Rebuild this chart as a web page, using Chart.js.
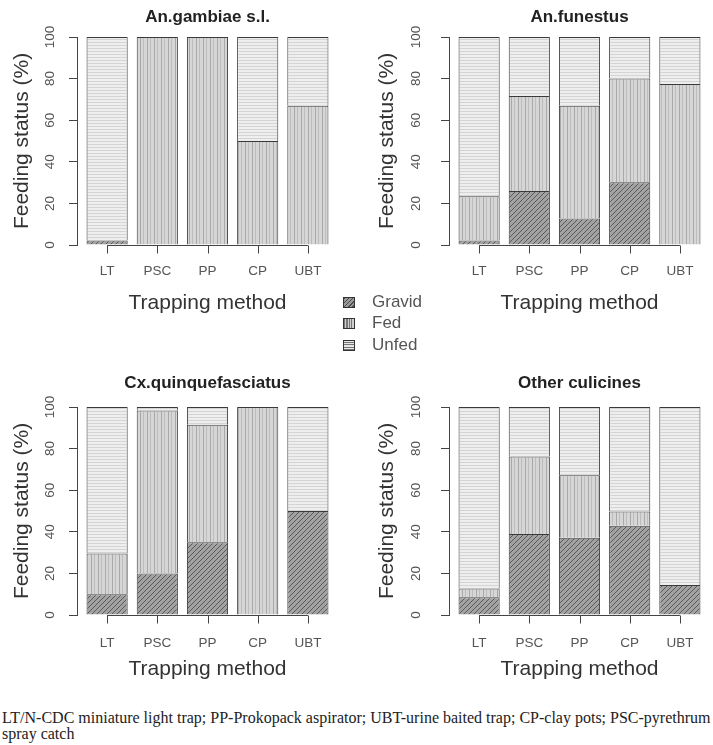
<!DOCTYPE html>
<html>
<head>
<meta charset="utf-8">
<script src="https://cdn.jsdelivr.net/npm/chart.js@4"></script>
<style>
  body { margin: 0; background: #fff; }
  #page { position: relative; width: 713px; height: 745px; overflow: hidden; font-family: 'Liberation Sans', Arial, sans-serif; }
  canvas { position: absolute; }
  .legend { position: absolute; left: 343px; font-size: 17px; color: #555; }
  .legend div { position: absolute; left: 0; height: 20px; line-height: 20px; white-space: nowrap; }
  .legend span.sw { position: absolute; left: 0; top: 5px; width: 10px; height: 9px; border: 1px solid #333; }
  .legend span.tx { position: absolute; left: 29px; top: 0; }
  #caption { position: absolute; left: 2px; top: 710px; font-family: 'Liberation Serif', 'Times New Roman', serif; font-size: 16px; line-height: 16px; color: #222; white-space: nowrap; }
</style>
</head>
<body>
<div id="page">
  <canvas id="p1" width="356" height="320" style="left:0px;top:0px"></canvas>
  <canvas id="p2" width="356" height="320" style="left:357px;top:0px"></canvas>
  <canvas id="p3" width="356" height="320" style="left:0px;top:366px"></canvas>
  <canvas id="p4" width="356" height="320" style="left:357px;top:366px"></canvas>
  <div class="legend">
    <div style="top:292px"><span class="sw" style="background:#9a9a9a repeating-linear-gradient(135deg,#4e4e4e 0 1px,transparent 1px 3px)"></span><span class="tx">Gravid</span></div>
    <div style="top:313px"><span class="sw" style="background:repeating-linear-gradient(90deg,#777 0 1px,#d0d0d0 1px 2.5px)"></span><span class="tx">Fed</span></div>
    <div style="top:335px"><span class="sw" style="background:repeating-linear-gradient(0deg,#777 0 1px,#e6e6e6 1px 2.5px)"></span><span class="tx">Unfed</span></div>
  </div>
  <div id="caption">LT/N-CDC miniature light trap; PP-Prokopack aspirator; UBT-urine baited trap; CP-clay pots; PSC-pyrethrum<br>spray catch</div>
</div>
<script>
// Trapping methods (x categories)
const methods = ["LT", "PSC", "PP", "CP", "UBT"];
const statusNames = ["Gravid", "Fed", "Unfed"];
// Feeding status (%) per species, one value per trapping method
const gambiaeGravid = [2.2, 0, 0, 0, 0];
const gambiaeFed = [0, 100, 100, 50, 67];
const gambiaeUnfed = [97.8, 0, 0, 50, 33];

const funestusGravid = [2.2, 26, 12.8, 30.2, 0];
const funestusFed = [21.2, 45.6, 54.2, 49.9, 77.4];
const funestusUnfed = [76.6, 28.4, 33, 19.9, 22.6];

const culexGravid = [10, 20, 35, 0, 50];
const culexFed = [19.6, 78.3, 56.5, 100, 0];
const culexUnfed = [70.4, 1.7, 8.5, 0, 50];

const otherGravid = [8.5, 38.9, 37.1, 42.9, 14.4];
const otherFed = [4.3, 37.3, 30.1, 6.9, 0];
const otherUnfed = [87.2, 23.8, 32.8, 50.2, 85.6];

const yTicks = [0, 20, 40, 60, 80, 100];

const sans = "'Liberation Sans', Arial, sans-serif";

// Hatch fills like R's density/angle shading
function makePattern(ctx, kind) {
  const c = document.createElement("canvas");
  const g = c.getContext("2d");
  if (kind === "Gravid") {
    c.width = 5; c.height = 5;
    g.fillStyle = "#a2a2a2";
    g.fillRect(0, 0, 5, 5);
    g.strokeStyle = "#5a5a5a";
    g.lineWidth = 1;
    g.beginPath();
    g.moveTo(0, 5); g.lineTo(5, 0);
    g.moveTo(-1, 1); g.lineTo(1, -1);
    g.moveTo(4, 6); g.lineTo(6, 4);
    g.stroke();
  } else if (kind === "Fed") {
    c.width = 7; c.height = 1;
    g.fillStyle = "#d6d6d6";
    g.fillRect(0, 0, 7, 1);
    g.fillStyle = "#a9a9a9";
    g.fillRect(0, 0, 1, 1);
    g.fillStyle = "#bdbdbd";
    g.fillRect(3, 0, 1, 1);
  } else {
    c.width = 1; c.height = 3;
    g.fillStyle = "#eeeeee";
    g.fillRect(0, 0, 1, 3);
    g.fillStyle = "#d4d4d4";
    g.fillRect(0, 0, 1, 1);
  }
  return ctx.createPattern(c, "repeat");
}

// x axis like R's axis(): line from first to last tick, ticks pointing down
const baseline = {
  id: "baseline",
  afterDatasetsDraw(chart) {
    const { ctx, scales: { x, y } } = chart;
    const y0 = Math.round(y.getPixelForValue(0)) + 0.5;
    ctx.save();
    ctx.strokeStyle = "#444";
    ctx.lineWidth = 1;
    ctx.beginPath();
    ctx.moveTo(x.getPixelForValue(0), y0);
    ctx.lineTo(x.getPixelForValue(methods.length - 1), y0);
    x.ticks.forEach((t) => {
      const px = Math.round(x.getPixelForValue(t.value)) + 0.5;
      ctx.moveTo(px, y0);
      ctx.lineTo(px, y0 + 8);
    });
    ctx.stroke();
    ctx.restore();
  },
};

const panels = [
  { id: "p1", title: "An.gambiae s.l.", values: [gambiaeGravid, gambiaeFed, gambiaeUnfed],
    axisW: 77, padR: 18, yTitlePad: 9.4, yTickPad: 7.75, titleTop: 7, titleBottom: 9.6, xH: 75, xTickPad: 10 },
  { id: "p2", title: "An.funestus", values: [funestusGravid, funestusFed, funestusUnfed],
    axisW: 92, padR: 3, yTitlePad: 17.4, yTickPad: 13.75, titleTop: 7, titleBottom: 9.6, xH: 75, xTickPad: 10 },
  { id: "p3", title: "Cx.quinquefasciatus", values: [culexGravid, culexFed, culexUnfed],
    axisW: 77, padR: 18, yTitlePad: 9.4, yTickPad: 7.75, titleTop: 6.8, titleBottom: 13.8, xH: 71, xTickPad: 12 },
  { id: "p4", title: "Other culicines", values: [otherGravid, otherFed, otherUnfed],
    axisW: 92, padR: 3, yTitlePad: 17.4, yTickPad: 13.75, titleTop: 6.8, titleBottom: 13.8, xH: 71, xTickPad: 12 },
];

panels.forEach((p) => {
  const canvas = document.getElementById(p.id);
  const ctx = canvas.getContext("2d");
  new Chart(canvas, {
    type: "bar",
    plugins: [baseline],
    data: {
      labels: methods.map((_, i) => i),
      datasets: statusNames.map((name, k) => ({
        label: name,
        data: p.values[k],
        backgroundColor: makePattern(ctx, name),
        borderColor: "#3a3a3a",
        borderWidth: { top: 1, left: 1, right: 1, bottom: 0 },
        borderSkipped: false,
        barPercentage: 0.82,
        categoryPercentage: 1,
      })),
    },
    options: {
      responsive: false,
      animation: false,
      devicePixelRatio: 1,
      layout: { padding: { left: 0, right: p.padR, top: 0, bottom: 0 } },
      plugins: {
        legend: { display: false },
        tooltip: { enabled: false },
        title: {
          display: true,
          text: p.title,
          fullSize: false,
          color: "#222",
          font: { family: sans, size: 17, weight: "bold", lineHeight: 1.2 },
          padding: { top: p.titleTop, bottom: p.titleBottom },
        },
      },
      scales: {
        x: {
          type: "linear",
          stacked: true,
          offset: false,
          min: -0.6,
          max: 4.6,
          afterBuildTicks: (scale) => {
            scale.ticks = methods.map((_, i) => ({ value: i }));
          },
          afterFit: (scale) => { scale.height = p.xH; },
          ticks: {
            autoSkip: false,
            maxRotation: 0,
            padding: p.xTickPad,
            color: "#555",
            font: { family: sans, size: 13.5 },
            callback: (v) => methods[v],
          },
          grid: { display: false, offset: false, drawOnChartArea: false, drawTicks: true, tickLength: 8 },
          border: { display: false },
          title: {
            display: true,
            text: "Trapping method",
            color: "#333",
            font: { family: sans, size: 21 },
            padding: { top: 0, bottom: 4.4 },
          },
        },
        y: {
          stacked: true,
          min: 0,
          max: 100,
          afterBuildTicks: (scale) => {
            scale.ticks = yTicks.map((v) => ({ value: v }));
          },
          afterFit: (scale) => { scale.width = p.axisW; },
          ticks: {
            minRotation: 90,
            maxRotation: 90,
            crossAlign: "center",
            padding: p.yTickPad,
            color: "#555",
            font: { family: sans, size: 13.5 },
          },
          grid: { drawOnChartArea: false, drawTicks: true, tickLength: 8, color: "#444" },
          border: { display: true, color: "#444", width: 1 },
          title: {
            display: true,
            text: "Feeding status (%)",
            color: "#333",
            font: { family: sans, size: 21 },
            padding: { top: p.yTitlePad, bottom: 0 },
          },
        },
      },
    },
  });
});
</script>
</body>
</html>
